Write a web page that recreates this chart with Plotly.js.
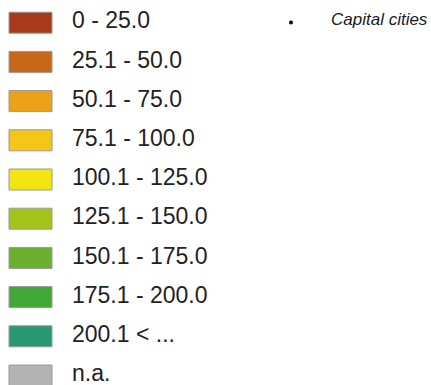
<!DOCTYPE html>
<html>
<head>
<meta charset="utf-8">
<script src="https://cdn.plot.ly/plotly-3.0.1.min.js"></script>
<style>
html,body{margin:0;padding:0;background:#fff;}
#chart{width:431px;height:385px;}
</style>
</head>
<body>
<div id="chart"></div>
<script>
const classLabels = ["0 - 25.0","25.1 - 50.0","50.1 - 75.0","75.1 - 100.0","100.1 - 125.0","125.1 - 150.0","150.1 - 175.0","175.1 - 200.0","200.1 < ...","n.a."];
const classColors = ["#A8391A","#C8661A","#ECA218","#F5C518","#F2E512","#A3C41A","#6BB02F","#41A838","#279873","#B3B3B3"];
const pointLabel = ["Capital cities"];

const rowTop = 22.7, rowStep = 39.2;
const rowY = classLabels.map((_, i) => rowTop + i * rowStep);

const shapes = classLabels.map((_, i) => ({
  type: "rect", xref: "x", yref: "y",
  x0: 9, x1: 52, y0: rowY[i] - 10.5, y1: rowY[i] + 10.5,
  fillcolor: classColors[i], line: {color: "#9a9a9a", width: 1}
}));

const labelTrace = {
  type: "scatter", mode: "text",
  x: classLabels.map(() => 72), y: rowY, text: classLabels,
  textposition: "middle right",
  textfont: {family: "Liberation Sans, Arial, sans-serif", size: 23, color: "#222222"},
  hoverinfo: "skip", cliponaxis: false
};
const dotTrace = {
  type: "scatter", mode: "markers",
  x: [291], y: [22.5],
  marker: {size: 4, color: "#000", symbol: "circle"},
  hoverinfo: "skip"
};
const capTrace = {
  type: "scatter", mode: "text",
  x: [331], y: [21], text: pointLabel,
  textposition: "middle right",
  textfont: {family: "Liberation Sans, Arial, sans-serif", size: 17, color: "#1a1a1a", style: "italic"},
  hoverinfo: "skip", cliponaxis: false
};

Plotly.newPlot("chart", [labelTrace, dotTrace, capTrace], {
  width: 431, height: 385,
  margin: {l: 0, r: 0, t: 0, b: 0},
  paper_bgcolor: "#fff", plot_bgcolor: "#fff",
  showlegend: false,
  xaxis: {range: [0, 431], visible: false, fixedrange: true},
  yaxis: {range: [385, 0], visible: false, fixedrange: true},
  shapes: shapes
}, {staticPlot: true, displayModeBar: false});
</script>
</body>
</html>
